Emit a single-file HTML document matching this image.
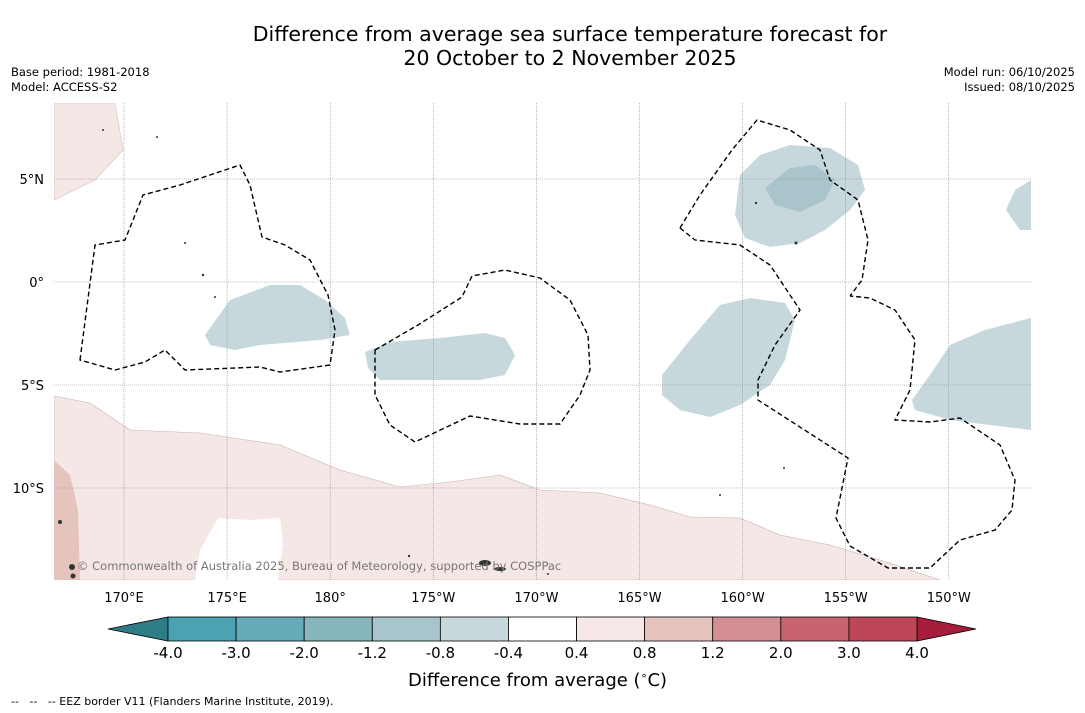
<!DOCTYPE html>
<html><head><meta charset="utf-8"><style>
body{margin:0;background:#fff;font-family:"DejaVu Sans","Liberation Sans",sans-serif;}
#wrap{position:relative;width:1085px;height:713px;overflow:hidden;background:#fff;}
.t{position:absolute;white-space:nowrap;color:#000;}
</style></head><body>
<div id="wrap">
<div class="t" style="left:0;width:1140px;top:22px;text-align:center;font-size:20.5px;line-height:24px;">Difference from average sea surface temperature forecast for<br>20 October to 2 November 2025</div>
<div class="t" style="left:11px;top:65px;font-size:11.5px;line-height:15px;">Base period: 1981-2018<br>Model: ACCESS-S2</div>
<div class="t" style="right:10px;top:65px;font-size:11.5px;line-height:15px;text-align:right;">Model run: 06/10/2025<br>Issued: 08/10/2025</div>
<svg id="map" width="1085" height="713" style="position:absolute;left:0;top:0">
<defs><clipPath id="mc"><rect x="54" y="103" width="977" height="477"/></clipPath></defs>
<g clip-path="url(#mc)">
<path d="M54,103 L115,103 L123,150 L95,180 L54,200 Z" fill="#f4e7e5" stroke="#d8c0bc" stroke-width="0.6"/>
<path d="M54,396 L90,403 L130,430 L200,433 L280,445 L340,470 L400,487 L450,482 L500,475 L540,490 L600,493 L650,505 L690,517 L740,518 L780,535 L830,545 L880,560 L940,580 L54,580 Z" fill="#f4e7e5" stroke="#c9b2ae" stroke-width="0.6"/>
<path d="M218,518 L250,520 L280,518 L283,545 L278,580 L195,580 L200,550 Z" fill="#fff"/>
<path d="M54,460 L70,475 L78,510 L80,580 L54,580 Z" fill="#e6c4be"/>
<path d="M205,335 L230,300 L270,285 L300,285 L325,300 L345,318 L350,335 L320,340 L260,345 L235,350 L210,345 Z" fill="#c6d8dc"/>
<path d="M365,352 L390,342 L440,338 L485,333 L505,338 L515,355 L505,375 L480,380 L420,380 L380,380 L368,368 Z" fill="#c6d8dc"/>
<path d="M662,375 L690,340 L720,305 L750,298 L785,303 L795,320 L785,360 L770,385 L740,405 L710,417 L680,410 L662,395 Z" fill="#c6d8dc"/>
<path d="M740,175 L760,155 L790,145 L830,148 L858,165 L865,190 L850,210 L825,230 L800,243 L770,247 L745,238 L735,215 Z" fill="#c6d8dc"/>
<path d="M765,188 L790,168 L815,165 L835,180 L825,200 L800,212 L775,205 Z" fill="#a9c5cb"/>
<path d="M1031,180 L1015,190 L1006,210 L1020,230 L1031,230 Z" fill="#c6d8dc"/>
<path d="M912,400 L930,375 L950,345 L985,330 L1031,318 L1031,430 L990,425 L950,420 L915,410 Z" fill="#c6d8dc"/>
</g>
<g stroke="#888" stroke-width="0.6" stroke-dasharray="1,1" id="grid"></g>
<g fill="none" stroke="#000" stroke-width="1.4" stroke-dasharray="5,3" clip-path="url(#mc)">
<path d="M80,360 L95,245 L125,240 L143,195 L180,185 L240,165 L250,185 L262,237 L285,245 L310,260 L328,295 L335,330 L330,365 L280,372 L260,367 L185,370 L165,350 L145,362 L115,370 Z"/>
<path d="M375,350 L418,325 L462,297 L472,276 L505,270 L540,278 L570,300 L588,335 L590,370 L580,395 L560,424 L520,424 L470,416 L415,442 L390,425 L375,395 Z"/>
<path d="M680,228 L700,195 L732,150 L757,120 L790,130 L820,150 L830,180 L858,200 L868,240 L862,280 L850,296"/>
<path d="M680,228 L695,240 L740,245 L770,265 L800,310 L775,345 L758,380 L758,400 L848,458 L836,518 L850,546 L888,568 L930,568 L960,540 L995,530 L1012,510 L1015,480 L1000,445 L960,418 L930,422 L895,420 L910,390 L915,340 L895,310 L870,298 L850,296"/>
</g>
<g fill="#333">
<ellipse cx="485" cy="563" rx="6" ry="3"/><ellipse cx="500" cy="569" rx="6" ry="2"/><circle cx="72" cy="567" r="3"/><circle cx="73" cy="576" r="2.5"/><circle cx="60" cy="522" r="2"/>
<circle cx="185" cy="243" r="1"/><circle cx="203" cy="275" r="1.2"/><circle cx="215" cy="297" r="1"/><circle cx="756" cy="203" r="1.2"/><circle cx="796" cy="243" r="1.5"/><circle cx="720" cy="495" r="1"/><circle cx="784" cy="468" r="1"/><circle cx="103" cy="130" r="1"/><circle cx="157" cy="137" r="1"/><circle cx="409" cy="556" r="1.2"/><circle cx="548" cy="574" r="1"/>
</g>
<text x="77" y="570" font-size="11.5" fill="#777" font-family="DejaVu Sans,sans-serif">© Commonwealth of Australia 2025, Bureau of Meteorology, supported by COSPPac</text>
<g id="axes" font-size="13" font-family="DejaVu Sans,sans-serif"></g>
<g id="cbar"></g>
</svg>
<div class="t" style="left:408px;top:669px;font-size:18px;">Difference from average (<sup style="font-size:11px">∘</sup>C)</div>
<div class="t" style="left:11px;top:695px;font-size:11px;">--&nbsp;&nbsp;&nbsp;--&nbsp;&nbsp;&nbsp;-- EEZ border V11 (Flanders Marine Institute, 2019).</div>
</div>
<script>
const lonLabels=["170°E","175°E","180°","175°W","170°W","165°W","160°W","155°W","150°W"];
const latLabels=["5°N","0°","5°S","10°S"];
const levels=["-4.0","-3.0","-2.0","-1.2","-0.8","-0.4","0.4","0.8","1.2","2.0","3.0","4.0"];
const binColors=["#4aa2b2","#68abb8","#88b6bd","#a7c6cb","#c6d8dc","#ffffff","#f5e8e6","#e6c4be","#d48f94","#c8646d","#bd4656"];
const ns="http://www.w3.org/2000/svg";
const xLon=i=>124+i*103.1, yLat=i=>179+i*103;
const grid=document.getElementById('grid'),axes=document.getElementById('axes');
lonLabels.forEach((l,i)=>{const x=xLon(i);
 const ln=document.createElementNS(ns,'line');ln.setAttribute('x1',x);ln.setAttribute('x2',x);ln.setAttribute('y1',103);ln.setAttribute('y2',580);
 
 grid.appendChild(ln);
 const t=document.createElementNS(ns,'text');t.setAttribute('x',x);t.setAttribute('y',602);t.setAttribute('text-anchor','middle');t.textContent=l;
 
 axes.appendChild(t);});
latLabels.forEach((l,i)=>{const y=yLat(i);
 const ln=document.createElementNS(ns,'line');ln.setAttribute('x1',54);ln.setAttribute('x2',1031);ln.setAttribute('y1',y);ln.setAttribute('y2',y);
 
 grid.appendChild(ln);
 const t=document.createElementNS(ns,'text');t.setAttribute('x',44);t.setAttribute('y',y+5);t.setAttribute('text-anchor','end');t.textContent=l;
 
 axes.appendChild(t);});
const cb=document.getElementById('cbar');const x0=168,x1=917,w=(x1-x0)/binColors.length,y0=617,h=24;
const lt=document.createElementNS(ns,'path');lt.setAttribute('d',`M${x0},${y0} L108,${y0+h/2} L${x0},${y0+h} Z`);lt.setAttribute('fill','#2e7d86');lt.setAttribute('stroke','#000');lt.setAttribute('stroke-width','0.8');

cb.appendChild(lt);
const rt=document.createElementNS(ns,'path');rt.setAttribute('d',`M${x1},${y0} L976,${y0+h/2} L${x1},${y0+h} Z`);rt.setAttribute('fill','#a51d3b');rt.setAttribute('stroke','#000');rt.setAttribute('stroke-width','0.8');

cb.appendChild(rt);
binColors.forEach((c,i)=>{const r=document.createElementNS(ns,'rect');r.setAttribute('x',x0+i*w);r.setAttribute('y',y0);r.setAttribute('width',w);r.setAttribute('height',h);r.setAttribute('fill',c);r.setAttribute('stroke','#000');r.setAttribute('stroke-width','0.8');
 
 cb.appendChild(r);});
levels.forEach((l,i)=>{const t=document.createElementNS(ns,'text');t.setAttribute('x',x0+i*w);t.setAttribute('y',658);t.setAttribute('text-anchor','middle');t.setAttribute('font-size','15');t.setAttribute('font-family','DejaVu Sans,sans-serif');t.textContent=l;
 
 cb.appendChild(t);});
</script>
</body></html>
